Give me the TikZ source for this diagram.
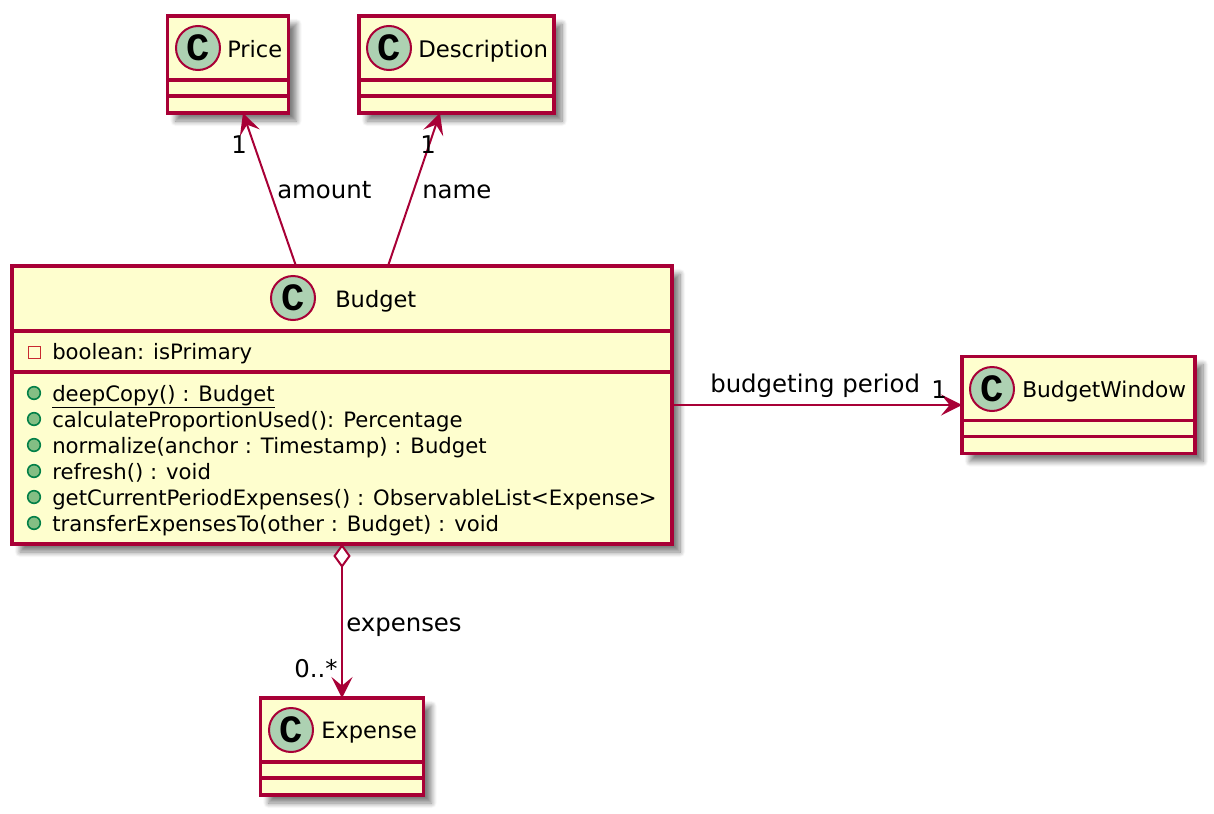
\documentclass[tikz,border=0pt]{standalone}
\usepackage{fontspec}
\setmainfont{DejaVu Sans}
\newfontfamily\spotfont{Liberation Mono}
\usetikzlibrary{arrows.meta,shadows.blur}
\definecolor{umlborder}{HTML}{A80036}
\definecolor{umlfill}{HTML}{FEFECE}
\definecolor{umlspot}{HTML}{ADD1B2}
\definecolor{pubfill}{HTML}{84BE84}
\definecolor{publine}{HTML}{038048}
\definecolor{privline}{HTML}{C82930}
\tikzset{
	classbox/.style={draw=umlborder, fill=umlfill, line width=2.3pt, outer sep=0pt, inner sep=0pt,
		blur shadow={shadow xshift=6pt, shadow yshift=-6pt, shadow blur radius=4pt, shadow blur steps=8, shadow opacity=50}},
	classrule/.style={draw=umlborder, line width=2.3pt},
	spot/.style={circle, draw=umlborder, fill=umlspot, line width=1.5pt, minimum size=33pt, inner sep=0pt,
		font=\spotfont\bfseries\fontsize{29}{29}\selectfont},
	classname/.style={anchor=base west, inner sep=0pt, font=\fontsize{16.9}{20}\selectfont},
	member/.style={anchor=base west, inner sep=0pt, font=\fontsize{15.9}{20}\selectfont},
	linklabel/.style={anchor=base west, inner sep=0pt, font=\fontsize{18.3}{20}\selectfont},
	pubdot/.style={circle, draw=publine, fill=pubfill, line width=1.2pt, minimum size=9.5pt, inner sep=0pt},
	privbox/.style={rectangle, draw=privline, line width=1.3pt, minimum size=9pt, inner sep=0pt},
	assoc/.style={draw=umlborder, line width=1.5pt, -{Stealth[length=15.75pt, width=15.75pt, inset=6.5pt, umlborder]}},
	aggreg/.style={draw=umlborder, line width=1.5pt,
		{Diamond[open, length=18pt, width=13pt, fill=white]}-{Stealth[length=15.75pt, width=15.75pt, inset=6.5pt, umlborder]}},
}
\begin{document}
\begin{tikzpicture}[x=0.75pt, y=-0.75pt]
	\useasboundingbox (0,0) rectangle (1214,814);
	% Classes
	\node[classbox, minimum width=90.75pt, minimum height=72.75pt] (price) at (228,64.5) {};
	\node[classbox, minimum width=146.25pt, minimum height=72.75pt] (description) at (456.5,64.5) {};
	\node[classbox, minimum width=495pt, minimum height=208.5pt] (budget) at (342,405) {};
	\node[classbox, minimum width=174.75pt, minimum height=72.75pt] (budgetwindow) at (1078.5,405) {};
	\node[classbox, minimum width=122.25pt, minimum height=72.75pt] (expense) at (342,746.5) {};
	% Compartments
	\foreach \cname in {price,description,budgetwindow,expense} {
		\draw[classrule] ([yshift=-48pt]\cname.north west) -- ([yshift=-48pt]\cname.north east);
		\draw[classrule] ([yshift=-60pt]\cname.north west) -- ([yshift=-60pt]\cname.north east);
	}
	\draw[classrule] ([yshift=-48.75pt]budget.north west) -- ([yshift=-48.75pt]budget.north east);
	\draw[classrule] ([yshift=-79.5pt]budget.north west) -- ([yshift=-79.5pt]budget.north east);
	% Spots
	\node[spot] (pricespot) at (198,48) {C};
	\node[spot] (descriptionspot) at (389,48) {C};
	\node[spot] (budgetspot) at (293,298) {C};
	\node[spot] (budgetwindowspot) at (992,389) {C};
	\node[spot] (expensespot) at (291,730) {C};
	% Names
	\node[classname] (pricename) at (227,57) {Price};
	\node[classname, font=\fontsize{17.1}{20}\selectfont] (descriptionname) at (418,57) {Description};
	\node[classname] (budgetname) at (335,307) {Budget};
	\node[classname, font=\fontsize{16.3}{20}\selectfont] (budgetwindowname) at (1022,397) {BudgetWindow};
	\node[classname] (expensename) at (321,738) {Expense};
	% Members
	\node[privbox] (isprimarymark) at (34.5,352.5) {};
	\node[member] (isprimary) at (52,359) {boolean: isPrimary};
	\foreach \row/\ybase/\ydot/\txt in {
		1/401/393/{\underline{deepCopy() : Budget}},
		2/427/419/{calculateProportionUsed(): Percentage},
		3/453/445/{normalize(anchor : Timestamp) : Budget},
		4/479/471/{refresh() : void},
		5/505/497/{getCurrentPeriodExpenses() : ObservableList<Expense>},
		6/531/523/{transferExpensesTo(other : Budget) : void}} {
		\node[pubdot] (methodmark\row) at (34,\ydot) {};
		\node[member] (method\row) at (52,\ybase) {\txt};
	}
	% Links
	\draw[assoc] ([xshift=-34.5pt]budget.north) -- ([xshift=11.25pt]price.south);
	\draw[assoc] ([xshift=34.5pt]budget.north) -- ([xshift=-12.4pt]description.south);
	\draw[assoc] (budget.east) -- (budgetwindow.west);
	\draw[aggreg] (budget.south) -- (expense.north);
	% Labels
	\node[linklabel] (amountlabel) at (277,198) {amount};
	\node[linklabel] (namelabel) at (422,198) {name};
	\node[linklabel] (periodlabel) at (710,392) {budgeting period};
	\node[linklabel] (expenseslabel) at (346,631) {expenses};
	\node[linklabel] (priceone) at (231,153) {1};
	\node[linklabel] (descriptionone) at (420,153) {1};
	\node[linklabel] (windowone) at (931,398) {1};
	\node[linklabel] (expensemany) at (294,677) {0..*};
\end{tikzpicture}
\end{document}
